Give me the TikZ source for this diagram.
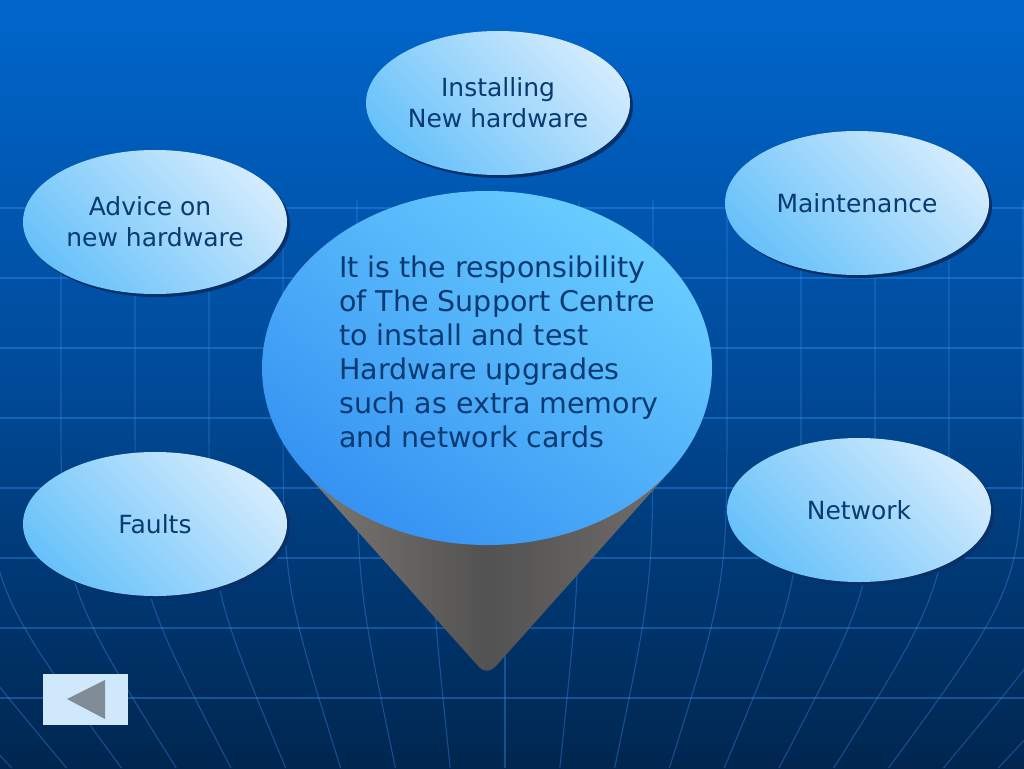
\documentclass[tikz,border=0pt]{standalone}
\usepackage{fontspec}
\setmainfont{DejaVu Sans}
\usetikzlibrary{shapes.geometric,shadows}
\definecolor{bgtop}{HTML}{0066CC}
\definecolor{bgmid}{HTML}{004A98}
\definecolor{bgbot}{HTML}{00264F}
\definecolor{gridc}{HTML}{3C8FF0}
\definecolor{elllight}{HTML}{D2EBFD}
\definecolor{elldark}{HTML}{68C2FA}
\definecolor{shadowc}{HTML}{0A3068}
\definecolor{txtc}{HTML}{0A3A72}
\definecolor{corelight}{HTML}{6ACDFF}
\definecolor{coredark}{HTML}{3592F2}
\definecolor{conemid}{HTML}{525252}
\definecolor{coneleft}{HTML}{7D7873}
\definecolor{coneright}{HTML}{716D6A}
\definecolor{btnfill}{HTML}{CFE8FB}
\definecolor{btnarrow}{HTML}{7F8C96}
\tikzset{
  gridline/.style={draw=gridc, draw opacity=0.38, line width=1.1pt},
  bubble/.style={ellipse, minimum width=264pt, minimum height=144pt, inner sep=0pt,
    top color=elllight, bottom color=elldark, shading angle=-45,
    drop shadow={shadow xshift=3pt, shadow yshift=-3pt, fill=shadowc, opacity=1},
    text=txtc, align=center, font=\fontsize{25}{31}\selectfont},
  corebubble/.style={ellipse, minimum width=450pt, minimum height=354pt, inner sep=0pt,
    top color=corelight, bottom color=coredark, shading angle=-35},
  coretextstyle/.style={text=txtc, align=left, inner sep=0pt, font=\fontsize{28.5}{34}\selectfont},
}
\begin{document}
\begin{tikzpicture}[x=1pt,y=-1pt]
\useasboundingbox (0,0) rectangle (1024,768);
% background
\shade[top color=bgtop, bottom color=bgbot, middle color=bgmid] (0,0) rectangle (1024,768);
% grid: horizontal lines
\foreach \yy in {208,278,348,418,488,558,628,698}
  \draw[gridline] (0,\yy) -- (1024,\yy);
% grid: meridians
\foreach \k in {-9,...,9} {
  \pgfmathsetmacro{\xa}{505+74*\k}
  \pgfmathsetmacro{\xb}{505+54.8*\k}
  \draw[gridline] (\xa,200) -- (\xa,400) .. controls (\xa,584) .. (\xb,768);
}
% cone
\shade[left color=coneleft, right color=coneright, middle color=conemid, rounded corners=12pt]
  (303,470) -- (487,676) -- (671,470) -- cycle;
% central ellipse
\node[corebubble] (core) at (487,368) {};
\node[coretextstyle, anchor=base west] (coretext) at (339,447)
  {It is the responsibility\\of The Support Centre\\to install and test\\Hardware upgrades\\such as extra memory\\and network cards};
% surrounding bubbles
\node[bubble] (install) at (498,103) {Installing\\New hardware};
\node[bubble] (advice) at (155,222) {Advice on\hspace*{.4em}\\new hardware};
\node[bubble] (maint) at (857,203) {Maintenance};
\node[bubble] (faults) at (155,524) {Faults};
\node[bubble] (network) at (859,510) {Network};
% back button
\node[fill=btnfill, minimum width=85pt, minimum height=51pt, inner sep=0pt] (back) at (85.5,699.5) {};
\fill[btnarrow] (67,699) -- (105,680) -- (105,719) -- cycle;
\end{tikzpicture}
\end{document}
